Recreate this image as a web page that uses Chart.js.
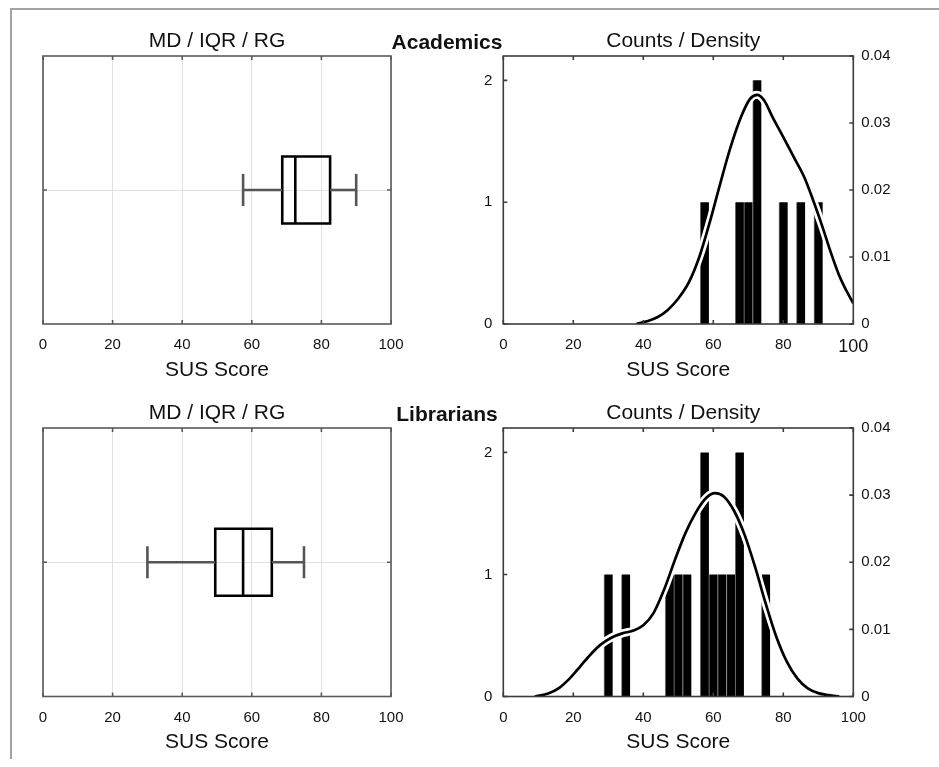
<!DOCTYPE html>
<html>
<head>
<meta charset="utf-8">
<title>SUS Score</title>
<script src="https://cdn.jsdelivr.net/npm/chart.js@4.4.1/dist/chart.umd.min.js"></script>
<style>
  body { margin: 0; background: #fff; }
  #page { position: relative; width: 939px; height: 767px; overflow: hidden; font-family: "Liberation Sans", Arial, sans-serif; }
  #page canvas { position: absolute; left: 0; top: 0; }
  .frame { position: absolute; left: 10px; top: 8px; width: 960px; height: 749px; border-left: 2px solid #a3a3a3; border-top: 2px solid #a3a3a3; }
  .group { position: absolute; left: 377px; width: 140px; text-align: center; font-weight: bold; font-size: 21px; line-height: 21px; color: #111; }
</style>
</head>
<body>
<div id="page">
  <div class="frame"></div>
  <canvas id="boxAcademics" width="939" height="767"></canvas>
  <canvas id="histAcademics" width="939" height="767"></canvas>
  <canvas id="boxLibrarians" width="939" height="767"></canvas>
  <canvas id="histLibrarians" width="939" height="767"></canvas>
  <div class="group" style="top:31px">Academics</div>
  <div class="group" style="top:403px">Librarians</div>
</div>
<script>
'use strict';

//ticks

var susTicks = [0, 20, 40, 60, 80, 100];
var boxRowTicks = [1];
var countTicks = [0, 1, 2];
var densityTicks = [0, 0.01, 0.02, 0.03, 0.04];

//box plots: min, q1, median, q3, max

var academicsBox = [57.5, 68.75, 72.5, 82.5, 90];
var librariansBox = [30, 49.5, 57.5, 65.75, 75];

//histograms: bin centres and counts

var academicsBins = [57.5, 67.5, 70, 72.5, 80, 85, 90];
var academicsCounts = [1, 1, 1, 2, 1, 1, 1];

var librariansBins = [30, 35, 47.5, 50, 52.5, 57.5, 60, 62.5, 65, 67.5, 75];
var librariansCounts = [1, 1, 1, 1, 1, 2, 1, 1, 1, 2, 1];

//density curves

var academicsDensX = [38, 41, 44, 47, 50, 53, 56, 59, 62, 65, 68, 70.5, 72.5, 74.5, 77, 80, 83, 86, 88.5, 91, 93.5, 96, 98, 100];
var academicsDensY = [0, 0.0004, 0.0010, 0.0021, 0.0038, 0.0062, 0.0100, 0.0152, 0.0210, 0.0265, 0.0310, 0.0336, 0.0342, 0.0334, 0.0308, 0.0279, 0.0249, 0.0219, 0.0185, 0.0148, 0.0108, 0.0072, 0.0050, 0.0031];

var librariansDensX = [9, 13, 16, 19, 22, 25, 28, 31, 34, 37, 40, 43, 46, 49, 52, 55, 58, 60.5, 63, 66, 69, 72, 75, 78, 81, 84, 87, 90, 93, 96];
var librariansDensY = [0, 0.0005, 0.0013, 0.0027, 0.0045, 0.0063, 0.0078, 0.0088, 0.0094, 0.0098, 0.0106, 0.0125, 0.0160, 0.0203, 0.0243, 0.0274, 0.0296, 0.0303, 0.0298, 0.0276, 0.0240, 0.0192, 0.0138, 0.0089, 0.0052, 0.0027, 0.0012, 0.0005, 0.0002, 0];

//styles

var fontFamily = '"Liberation Sans", Arial, sans-serif';
var textColor = '#111';
var whiskerColor = '#555';

//layout (page pixels)

var rows = [
    { titleY: 41, bottom: 324 },
    { titleY: 413, bottom: 696.5 }
];
var boxLeft = 43, boxRight = 391;
var histLeft = 503.3, histRight = 853.3;
var xAxisHeight = 58.6;
var histLeftAxis = 40, histRightAxis = 50;

function pts(xs, ys) {
    return xs.map(function (x, i) { return { x: x, y: ys[i] }; });
}

function useTicks(values) {
    return function (scale) {
        scale.ticks = values.map(function (v) { return { value: v }; });
    };
}

function fixHeight(h) { return function (scale) { scale.height = h; }; }
function fixWidth(w) { return function (scale) { scale.width = w; }; }

//frame with inward ticks on all four sides
var framePlugin = {
    id: 'frame',
    afterDatasetsDraw: function (chart, args, opts) {
        var ctx = chart.ctx, a = chart.chartArea, s = chart.scales, len = 4;
        ctx.save();
        ctx.strokeStyle = opts.color;
        ctx.lineWidth = opts.width;
        ctx.beginPath();
        s.x.ticks.forEach(function (t) {
            var px = s.x.getPixelForValue(t.value);
            ctx.moveTo(px, a.bottom); ctx.lineTo(px, a.bottom - len);
            ctx.moveTo(px, a.top); ctx.lineTo(px, a.top + len);
        });
        s.y.ticks.forEach(function (t) {
            var py = s.y.getPixelForValue(t.value);
            ctx.moveTo(a.left, py); ctx.lineTo(a.left + len, py);
            if (!s.y2) { ctx.moveTo(a.right, py); ctx.lineTo(a.right - len, py); }
        });
        if (s.y2) {
            s.y2.ticks.forEach(function (t) {
                var py = s.y2.getPixelForValue(t.value);
                ctx.moveTo(a.right, py); ctx.lineTo(a.right - len, py);
            });
        }
        ctx.stroke();
        ctx.strokeRect(a.left, a.top, a.right - a.left, a.bottom - a.top);
        ctx.restore();
    }
};

function titleOptions(text) {
    return {
        display: true,
        text: text,
        color: textColor,
        font: { family: fontFamily, size: 21, weight: 'normal' },
        padding: { top: 0, bottom: 2.4 }
    };
}

function susAxis(tickFont) {
    return {
        type: 'linear',
        min: 0,
        max: 100,
        offset: false,
        afterBuildTicks: useTicks(susTicks),
        afterFit: fixHeight(xAxisHeight),
        border: { display: false },
        ticks: { color: textColor, font: tickFont, padding: 12, autoSkip: false, maxRotation: 0 },
        title: { display: true, text: 'SUS Score', color: textColor, font: { family: fontFamily, size: 21 }, padding: 0 }
    };
}

function padding(row, left, right) {
    return { left: left, right: right, top: row.titleY - 12.6, bottom: 767 - row.bottom - xAxisHeight };
}

function boxChart(id, stats, row) {
    var lo = stats[0], q1 = stats[1], md = stats[2], q3 = stats[3], hi = stats[4];
    var c = 1, h = 0.25, cap = 0.12;

    function seg(data, color) {
        return { data: data, borderColor: color, backgroundColor: color, borderWidth: 2.6, showLine: true, pointRadius: 0, tension: 0, borderJoinStyle: 'miter', clip: 3 };
    }

    var x = susAxis({ family: fontFamily, size: 15 });
    x.grid = { color: '#e2e2e2', lineWidth: 1, drawTicks: false };

    return new Chart(document.getElementById(id), {
        type: 'scatter',
        data: {
            datasets: [
                seg([{ x: lo, y: c }, { x: q1, y: c }], whiskerColor),
                seg([{ x: q3, y: c }, { x: hi, y: c }], whiskerColor),
                seg([{ x: lo, y: c - cap }, { x: lo, y: c + cap }], whiskerColor),
                seg([{ x: hi, y: c - cap }, { x: hi, y: c + cap }], whiskerColor),
                seg([{ x: q1, y: c - h }, { x: q3, y: c - h }, { x: q3, y: c + h }, { x: q1, y: c + h }, { x: q1, y: c - h }, { x: q3, y: c - h }], '#000'),
                seg([{ x: md, y: c - h }, { x: md, y: c + h }], '#000')
            ]
        },
        options: {
            responsive: false,
            animation: false,
            events: [],
            layout: { padding: padding(row, boxLeft, 939 - boxRight) },
            plugins: {
                legend: { display: false },
                tooltip: { enabled: false },
                title: titleOptions('MD / IQR / RG'),
                frame: { color: '#5a5a5a', width: 1.6 }
            },
            scales: {
                x: x,
                y: {
                    type: 'linear',
                    min: 0,
                    max: 2,
                    afterBuildTicks: useTicks(boxRowTicks),
                    afterFit: fixWidth(0),
                    border: { display: false },
                    grid: { color: '#e2e2e2', lineWidth: 1, drawTicks: false },
                    ticks: { display: false }
                }
            }
        },
        plugins: [framePlugin]
    });
}

function histChart(id, bins, counts, densX, densY, row, big100) {
    var tickFont = { family: fontFamily, size: 15 };
    if (big100) {
        tickFont = function (ctx) {
            return { family: fontFamily, size: ctx.tick && ctx.tick.value === 100 ? 18 : 15 };
        };
    }
    var x = susAxis(tickFont);
    x.grid = { display: false, drawTicks: false };

    var dens = pts(densX, densY);

    return new Chart(document.getElementById(id), {
        type: 'bar',
        data: {
            datasets: [
                { type: 'line', data: dens, yAxisID: 'y2', borderColor: '#000', borderWidth: 2.7, pointRadius: 0, cubicInterpolationMode: 'monotone', clip: 0, order: 0 },
                { type: 'line', data: dens, yAxisID: 'y2', borderColor: '#fff', borderWidth: 8, pointRadius: 0, cubicInterpolationMode: 'monotone', clip: 0, order: 1 },
                { data: pts(bins, counts), yAxisID: 'y', backgroundColor: '#000', borderColor: '#7a7a7a', borderWidth: { left: 1, right: 0, top: 0, bottom: 0 }, borderSkipped: false, categoryPercentage: 1, barPercentage: 1, order: 2 }
            ]
        },
        options: {
            responsive: false,
            animation: false,
            events: [],
            layout: { padding: padding(row, histLeft - histLeftAxis, 939 - histRight - histRightAxis) },
            plugins: {
                legend: { display: false },
                tooltip: { enabled: false },
                title: titleOptions('Counts / Density'),
                frame: { color: '#3c3c3c', width: 1.6 }
            },
            scales: {
                x: x,
                y: {
                    type: 'linear',
                    position: 'left',
                    min: 0,
                    max: 2.2,
                    afterBuildTicks: useTicks(countTicks),
                    afterFit: fixWidth(histLeftAxis),
                    border: { display: false },
                    grid: { display: false, drawTicks: false },
                    ticks: { color: textColor, font: { family: fontFamily, size: 15 }, padding: 11 }
                },
                y2: {
                    type: 'linear',
                    position: 'right',
                    min: 0,
                    max: 0.04,
                    afterBuildTicks: useTicks(densityTicks),
                    afterFit: fixWidth(histRightAxis),
                    border: { display: false },
                    grid: { display: false, drawTicks: false },
                    ticks: { color: textColor, font: { family: fontFamily, size: 15 }, padding: 8 }
                }
            }
        },
        plugins: [framePlugin]
    });
}

boxChart('boxAcademics', academicsBox, rows[0]);
histChart('histAcademics', academicsBins, academicsCounts, academicsDensX, academicsDensY, rows[0], true);
boxChart('boxLibrarians', librariansBox, rows[1]);
histChart('histLibrarians', librariansBins, librariansCounts, librariansDensX, librariansDensY, rows[1], false);
</script>
</body>
</html>
